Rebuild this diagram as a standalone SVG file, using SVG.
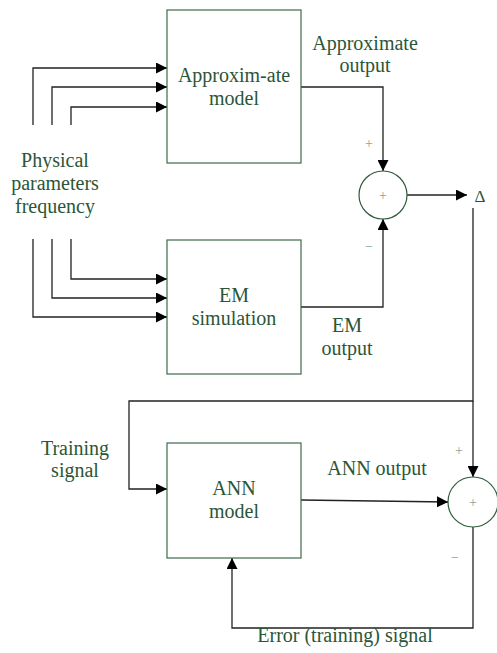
<svg xmlns="http://www.w3.org/2000/svg" width="497" height="653" viewBox="0 0 497 653">
<defs>
<marker id="ah" markerWidth="11" markerHeight="11" refX="11" refY="5.5" orient="auto" markerUnits="userSpaceOnUse">
<path d="M0,0 L11,5.5 L0,11 Z" fill="#000"/>
</marker>
</defs>
<style>
.box{fill:#fff;stroke:#3d6b4c;stroke-width:1.2}
.sum{fill:#fff;stroke:#2f5a3c;stroke-width:1.2}
.c{fill:none;stroke:#222;stroke-width:1.3}
.ca{fill:none;stroke:#222;stroke-width:1.3;marker-end:url(#ah)}
</style>
<rect width="497" height="653" fill="#fff"/>
<g id="connectors">
<path class="ca" d="M33,125 V68 H167"/>
<path class="ca" d="M52,125 V87 H167"/>
<path class="ca" d="M71,125 V107 H167"/>
<path class="ca" d="M71,239 V279 H167"/>
<path class="ca" d="M52,239 V298 H167"/>
<path class="ca" d="M33,239 V317 H167"/>
<path class="ca" d="M301,87 H383 V171"/>
<path class="ca" d="M301,307 H383 V219"/>
<path class="ca" d="M407,195 H467"/>
<path class="ca" d="M473,208 V401 H129 V489 H167"/>
<path class="ca" d="M473,401 V477"/>
<path class="ca" d="M301,500 L448,502"/>
<path class="ca" d="M473,527 V628 H232 V558"/>
</g>
<g font-family="Liberation Serif, DejaVu Serif, Times New Roman, serif" font-size="20" fill="#2a5638" text-anchor="middle">
<g id="approx-model">
<rect class="box" x="167" y="10" width="134" height="153"/>
<text x="234" y="82">Approxim-ate</text>
<text x="234" y="105">model</text>
</g>
<g id="em-simulation">
<rect class="box" x="167" y="240" width="134" height="134"/>
<text x="234" y="302">EM</text>
<text x="234" y="325">simulation</text>
</g>
<g id="ann-model">
<rect class="box" x="167" y="443" width="134" height="115"/>
<text x="234" y="495">ANN</text>
<text x="234" y="518">model</text>
</g>
<g id="sum1">
<circle class="sum" cx="383" cy="195" r="24"/>
<text x="383" y="200" font-size="14" fill="#8aa596">+</text>
</g>
<g id="sum2">
<circle class="sum" cx="473" cy="502" r="25"/>
<text x="473" y="507" font-size="14" fill="#8aa596">+</text>
</g>
<g id="labels">
<text x="55" y="167">Physical</text>
<text x="55" y="190">parameters</text>
<text x="55" y="213">frequency</text>
<text x="365" y="50">Approximate</text>
<text x="365" y="72">output</text>
<text x="347" y="332">EM</text>
<text x="347" y="355">output</text>
<text x="75" y="455">Training</text>
<text x="75" y="477">signal</text>
<text x="377" y="475">ANN output</text>
<text x="345" y="642">Error (training) signal</text>
<text x="480" y="202" font-size="17">Δ</text>
<text x="369" y="148" font-size="14" fill="#8aa596">+</text>
<text x="369" y="251" font-size="14" fill="#8aa596">−</text>
<text x="459" y="455" font-size="14" fill="#8aa596">+</text>
<text x="455" y="562" font-size="14" fill="#8aa596">−</text>
</g>
</g>
</svg>
